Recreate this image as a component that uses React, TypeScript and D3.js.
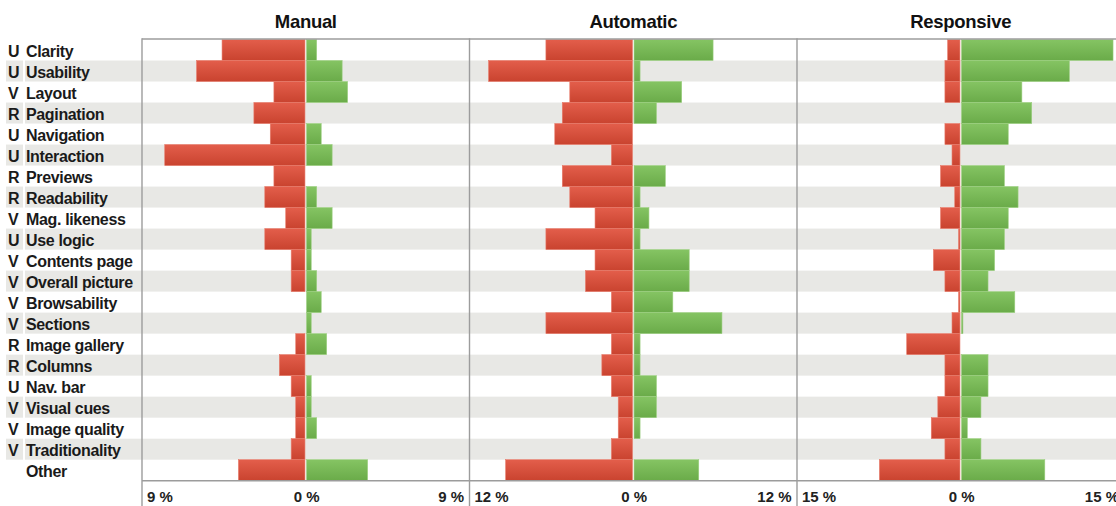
import React from "react";
import * as d3 from "d3";

const letters = ["U","U","V","R","U","U","R","R","V","U","V","V","V","V","R","R","U","V","V","V",""];
const categories = ["Clarity","Usability","Layout","Pagination","Navigation","Interaction","Previews","Readability","Mag. likeness","Use logic","Contents page","Overall picture","Browsability","Sections","Image gallery","Columns","Nav. bar","Visual cues","Image quality","Traditionality","Other"];

const panelTitles = ["Manual","Automatic","Responsive"];
const panelMax = [9, 12, 15];

const manualNeg = [4.6, 6.0, 1.75, 2.85, 1.95, 7.75, 1.75, 2.25, 1.1, 2.25, 0.8, 0.8, 0, 0, 0.55, 1.45, 0.8, 0.55, 0.55, 0.8, 3.7];
const manualPos = [0.6, 2.0, 2.3, 0, 0.85, 1.45, 0, 0.6, 1.45, 0.3, 0.3, 0.6, 0.85, 0.3, 1.15, 0, 0.3, 0.3, 0.6, 0, 3.4];
const autoNeg = [6.4, 10.6, 4.65, 5.2, 5.75, 1.6, 5.2, 4.65, 2.8, 6.4, 2.8, 3.5, 1.6, 6.4, 1.6, 2.3, 1.6, 1.1, 1.1, 1.6, 9.35];
const autoPos = [5.85, 0.5, 3.55, 1.7, 0, 0, 2.35, 0.5, 1.15, 0.5, 4.1, 4.1, 2.9, 6.5, 0.5, 0.5, 1.7, 1.7, 0.5, 0, 4.8];
const respNeg = [1.2, 1.45, 1.45, 0, 1.45, 0.8, 1.85, 0.55, 1.85, 0.2, 2.5, 1.45, 0.2, 0.8, 4.95, 1.45, 1.45, 2.1, 2.7, 1.45, 7.45];
const respPos = [13.95, 9.95, 5.6, 6.5, 4.35, 0, 4.0, 5.25, 4.35, 4.0, 3.1, 2.5, 4.95, 0.2, 0, 2.5, 2.5, 1.85, 0.6, 1.85, 7.7];

const negSeries = [manualNeg, autoNeg, respNeg];
const posSeries = [manualPos, autoPos, respPos];

const W = 1116, H = 506;
const FONT = "'Liberation Sans', Arial, Helvetica, sans-serif";
const panelLeft = 142;
const panelWidth = 327.5;
const rowTop = 39.5;
const rowBottom = 480.7;
const gridColor = "#9c9c9c";
const stripe = "#e8e8e5";

export default function App() {
  const y = d3.scaleBand<number>().domain(d3.range(categories.length)).range([rowTop, rowBottom]).paddingInner(0).paddingOuter(0);
  const bw = y.bandwidth();
  const panels = panelTitles.map((t, i) => {
    const left = panelLeft + i * panelWidth;
    const x = d3.scaleLinear().domain([-panelMax[i], panelMax[i]]).range([left, left + panelWidth]);
    return { t, i, left, x };
  });
  return (
    <div style={{ position: "absolute", left: 0, top: 0, width: W, height: H, overflow: "hidden", background: "#fff" }}>
      <svg width={W} height={H} style={{ display: "block" }} fontFamily={FONT}>
        <defs>
          <linearGradient id="gRed" x1="0" y1="0" x2="0" y2="1">
            <stop offset="0" stopColor="#e35e4b" />
            <stop offset="1" stopColor="#c9432f" />
          </linearGradient>
          <linearGradient id="gGreen" x1="0" y1="0" x2="0" y2="1">
            <stop offset="0" stopColor="#85c463" />
            <stop offset="1" stopColor="#6aab49" />
          </linearGradient>
        </defs>
        {/* stripes */}
        {categories.map((c, r) =>
          r % 2 === 1 ? (
            <g key={"s" + r}>
              <rect x={6} y={y(r)} width={17} height={bw} fill={stripe} />
              <rect x={25} y={y(r)} width={W - 25} height={bw} fill={stripe} />
            </g>
          ) : null
        )}
        {/* labels */}
        {categories.map((c, r) => (
          <g key={"l" + r} fontSize={16} fontWeight="bold" fill="#1a1a1a" letterSpacing={-0.35}>
            <text x={8} y={(y(r) as number) + bw / 2 + 6.5}>{letters[r]}</text>
            <text x={26} y={(y(r) as number) + bw / 2 + 6.5}>{c}</text>
          </g>
        ))}
        {/* bars */}
        {panels.map(({ i, x }) => {
          const c = x(0);
          return (
            <g key={"p" + i}>
              {negSeries[i].map((v, r) =>
                v > 0 ? (
                  <rect key={"n" + r} x={x(-v)} y={y(r)} width={c - 0.8 - x(-v)} height={bw}
                    fill="url(#gRed)" stroke="#e77a69" strokeWidth={0.6} />
                ) : null
              )}
              {posSeries[i].map((v, r) =>
                v > 0 ? (
                  <rect key={"q" + r} x={c + 0.8} y={y(r)} width={x(v) - c - 0.8} height={bw}
                    fill="url(#gGreen)" stroke="#9ccf80" strokeWidth={0.6} />
                ) : null
              )}
            </g>
          );
        })}
        {/* frame lines */}
        <line x1={panelLeft} x2={W} y1={rowTop - 0.5} y2={rowTop - 0.5} stroke={gridColor} strokeWidth={1.6} />
        <line x1={panelLeft} x2={W} y1={rowBottom} y2={rowBottom} stroke={gridColor} strokeWidth={1.4} />
        {panels.map(({ i, left }) => (
          <line key={"v" + i} x1={left} x2={left} y1={rowTop - 1.2} y2={H} stroke={gridColor} strokeWidth={1.4} />
        ))}
        <line x1={panelLeft + 3 * panelWidth} x2={panelLeft + 3 * panelWidth} y1={rowTop - 1.2} y2={H} stroke={gridColor} strokeWidth={1.4} />
        {/* titles & ticks */}
        {panels.map(({ t, i, left, x }) => (
          <g key={"t" + i} fill="#111">
            <text x={x(0)} y={28} textAnchor="middle" fontSize={18.5} fontWeight="bold" letterSpacing={-0.3}>{t}</text>
            <g fontSize={15} fontWeight="bold" fill="#222">
              <text x={left + 5} y={502} textAnchor="start">{panelMax[i] + " %"}</text>
              <text x={x(0) + 1} y={502} textAnchor="middle">0 %</text>
              <text x={left + panelWidth - 5.5} y={502} textAnchor="end">{panelMax[i] + " %"}</text>
            </g>
          </g>
        ))}
      </svg>
    </div>
  );
}
